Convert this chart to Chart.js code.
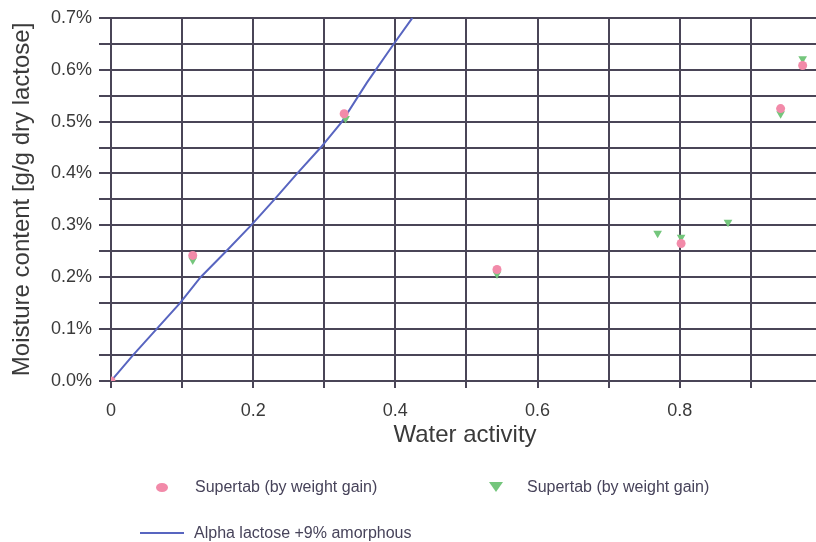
<!DOCTYPE html>
<html>
<head>
<meta charset="utf-8">
<script src="https://cdn.jsdelivr.net/npm/chart.js@4/dist/chart.umd.min.js"></script>
<style>
  html, body { margin: 0; padding: 0; background: #fff; overflow: hidden; }
  #wrap { position: relative; width: 816px; height: 542px; overflow: hidden; }
  #sorption { position: absolute; left: 0; top: 0; }
  .key { position: absolute; font: 16px "Liberation Sans", Arial, sans-serif; color: #47435a; white-space: nowrap; line-height: 20px; }
  .sym { position: absolute; }
</style>
</head>
<body>
<div id="wrap">
  <canvas id="sorption" width="824" height="542"></canvas>
  <div class="sym" style="left:156px;top:483px;width:12px;height:9px;border-radius:50%;background:#f28aa9"></div>
  <div class="key" style="left:195px;top:477px">Supertab (by weight gain)</div>
  <div class="sym" style="left:489px;top:482px;width:0;height:0;border-left:7px solid transparent;border-right:7px solid transparent;border-top:10px solid #74c67c"></div>
  <div class="key" style="left:527px;top:477px">Supertab (by weight gain)</div>
  <div class="sym" style="left:140px;top:532px;width:44px;height:2px;background:#5865c0"></div>
  <div class="key" style="left:194px;top:523px">Alpha lactose +9% amorphous</div>
</div>
<script>
// water activity (x) and moisture content in % g/g dry lactose (y)
var supertabAw   = [0, 0.115, 0.328, 0.543, 0.802, 0.942, 0.973];
var supertabMc   = [0, 0.242, 0.515, 0.215, 0.265, 0.525, 0.608];

var supertab2Aw  = [0, 0.115, 0.330, 0.543, 0.769, 0.802, 0.868, 0.942, 0.973];
var supertab2Mc  = [0, 0.233, 0.506, 0.206, 0.285, 0.277, 0.306, 0.515, 0.621];

var amorphousAw  = [0, 0.031, 0.064, 0.097, 0.126, 0.162, 0.197, 0.230, 0.262, 0.295, 0.325, 0.360, 0.398, 0.424];
var amorphousMc  = [0, 0.05, 0.10, 0.15, 0.20, 0.25, 0.30, 0.35, 0.40, 0.45, 0.50, 0.575, 0.65, 0.70];

function pts(xs, ys){
  return xs.map(function(x, i){ return {x: x, y: ys[i]}; });
}

var gridCol = "#4a4557";
var fontFam = '"Liberation Sans", Arial, sans-serif';

var config = {
  type: "scatter",
  data: {
    datasets: [{
      label: "Supertab (by weight gain)",
      data: pts(supertabAw, supertabMc),
      pointStyle: "circle",
      pointRadius: 4.5,
      backgroundColor: "#f28aa9",
      borderColor: "#f28aa9",
      borderWidth: 0
    }, {
      label: "Supertab (by weight gain)",
      data: pts(supertab2Aw, supertab2Mc),
      pointStyle: "triangle",
      rotation: 180,
      pointRadius: 5,
      backgroundColor: "#74c67c",
      borderColor: "#74c67c",
      borderWidth: 0
    }, {
      label: "Alpha lactose +9% amorphous",
      type: "line",
      data: pts(amorphousAw, amorphousMc),
      borderColor: "#5865c0",
      borderWidth: 2,
      pointRadius: 0,
      tension: 0,
      fill: false
    }]
  },
  options: {
    responsive: false,
    animation: false,
    devicePixelRatio: 1,
    layout: { padding: { top: 17, right: 0, left: 0, bottom: 81 } },
    plugins: { legend: { display: false }, tooltip: { enabled: false } },
    scales: {
      x: {
        type: "linear",
        min: 0,
        max: 0.996,
        afterFit: function(s){ s.height = 80; },
        grid: { color: gridCol, lineWidth: 2, tickLength: 7 },
        border: { color: gridCol, width: 2 },
        ticks: {
          stepSize: 0.1,
          includeBounds: false,
          autoSkip: false,
          maxRotation: 0,
          padding: 12,
          color: "#3a3a3a",
          font: { family: fontFam, size: 18 },
          callback: function(v){
            var t = Math.round(v * 10);
            if (t % 2) return "";
            return t === 0 ? "0" : (t / 10).toFixed(1);
          }
        },
        title: {
          display: true,
          text: "Water activity",
          color: "#3a3a3a",
          font: { family: fontFam, size: 24 },
          padding: { top: 0, bottom: 11 }
        }
      },
      y: {
        min: 0,
        max: 0.7,
        afterFit: function(s){ s.width = 111; },
        grid: { color: gridCol, lineWidth: 2, tickLength: 12 },
        border: { color: gridCol, width: 2 },
        ticks: {
          stepSize: 0.05,
          autoSkip: false,
          padding: 7,
          color: "#3a3a3a",
          font: { family: fontFam, size: 18 },
          callback: function(v){
            var t = Math.round(v * 100);
            if (t % 10) return "";
            return (t / 100).toFixed(1) + "%";
          }
        },
        title: {
          display: true,
          text: "Moisture content [g/g dry lactose]",
          color: "#3a3a3a",
          font: { family: fontFam, size: 24 },
          padding: { top: 8, bottom: 0 }
        }
      }
    }
  }
};

window.onload = function(){
  window.sorptionChart = new Chart(document.getElementById("sorption").getContext("2d"), config);
};
</script>
</body>
</html>
